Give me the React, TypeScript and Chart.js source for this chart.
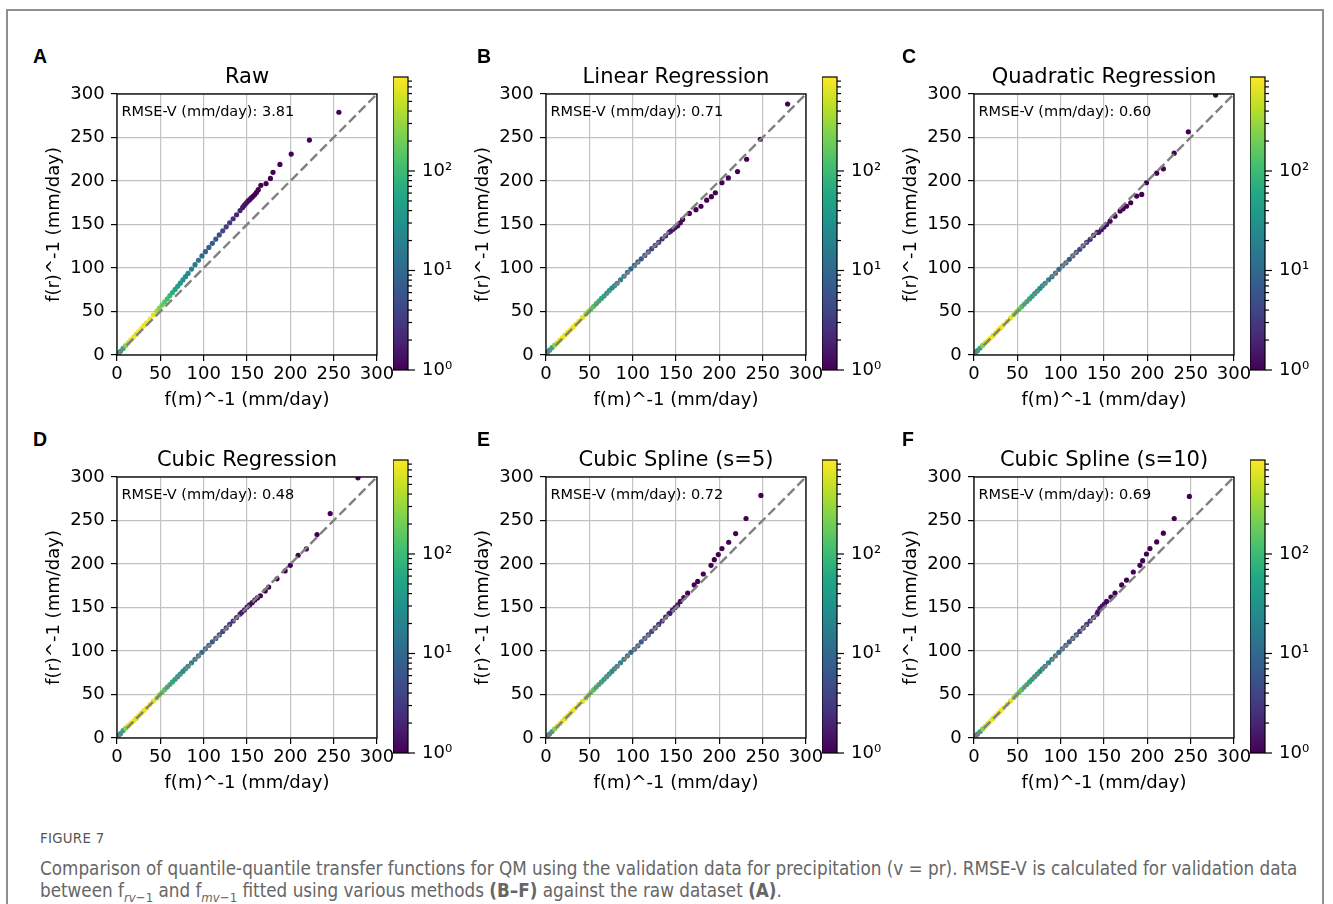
import React, { useEffect, useRef } from "react";
import { Chart, registerables } from "chart.js";

Chart.register(...registerables);
Chart.defaults.font.family = "'DejaVu Sans', sans-serif";

// ---------------- DATA ----------------
const panelLetters = ["A", "B", "C", "D", "E", "F"];
const panelTitles = [
  "Raw",
  "Linear Regression",
  "Quadratic Regression",
  "Cubic Regression",
  "Cubic Spline (s=5)",
  "Cubic Spline (s=10)",
];
const rmseLabels = ["3.81", "0.71", "0.60", "0.48", "0.72", "0.69"];
const xAxisLabel = "f(m)^-1 (mm/day)";
const yAxisLabel = "f(r)^-1 (mm/day)";
const axisTicks = [0, 50, 100, 150, 200, 250, 300];
const diagonal = [0, 300];

const colorbarMin = 1;
const colorbarMax = 880;
const colorbarDecades = [1, 10, 100];
const colorbarDecadeLabels = ["10\u2070", "10\u00b9", "10\u00b2"];
const colorbarTicks = [
  1, 2, 3, 4, 5, 6, 7, 8, 9, 10, 20, 30, 40, 50, 60, 70, 80, 90, 100, 200, 300,
  400, 500, 600, 700, 800,
];

// number of overlapping quantile points (colour), shared by all panels, per quantile index
const density = [
  30, 42, 65, 250, 520, 700, 820, 600, 780, 850, 700, 760, 820, 640, 350, 250,
  180, 140, 110, 90, 70, 55, 45, 38, 32, 28, 24, 20, 16, 13, 11, 9, 8, 7, 6, 5,
  4, 3.5, 3, 2.5, 2, 1.8, 1.6, 1.5, 1.4, 1.3, 1.2, 1.1, 1, 1, 1, 1, 1, 1, 1, 1,
  1, 1, 1, 1,
];

// lower quantiles on the x axis (dense part of the curve)
const lowQuantileX = [
  1.5, 4, 7, 10, 13, 16, 19, 22, 25, 28, 31, 34, 38, 42, 46, 49, 52, 55, 58, 61,
  64, 67, 70, 73, 76, 79, 82, 86, 90, 94, 98, 102, 106, 110, 114, 118, 122, 126,
  130, 134, 138, 142,
];

// A: Raw
const rawTailX = [145, 147, 149, 151, 153, 155, 157, 159, 161, 163, 166, 172, 177, 180, 188, 201, 222, 256];
const rawY = [
  1.6, 4.3, 7.6, 10.8, 14, 17.3, 20.5, 23.8, 27, 30.4, 33.7, 37, 41.4, 46, 50.6,
  53.9, 57.4, 61, 64.6, 68.2, 71.8, 75.4, 79, 82.6, 86.3, 90, 93.8, 98.8, 103.8,
  108.9, 113.9, 118.8, 123.6, 128.4, 133.2, 138, 142.7, 147.3, 152, 156.6,
  161.2, 166, 169.6, 172.2, 174.5, 176.8, 178.5, 180.5, 182.5, 184.5, 187, 190,
  195, 197, 203, 210, 219, 231, 247, 279,
];

// B: Linear Regression
const linLowY = [
  3, 5.5, 8.5, 11.5, 14, 17, 20, 23, 26, 29, 31.8, 35, 39, 43, 47, 49.8, 53, 56,
  59, 62, 65, 67.8, 71, 74, 77, 79.5, 82.5, 86.5, 90.5, 95, 99, 103, 107, 110.5,
  114.5, 118.5, 122.2, 126, 129.5, 133.5, 137, 141,
];
const linTailX = [144, 146.5, 149, 152, 155, 157.7, 165.4, 173, 178.8, 185.4, 190.8, 195.4, 203, 210.4, 221, 231.5, 247.3, 278.8];
const linTailY = [142.5, 144.5, 146.5, 148.5, 152, 155.8, 162.7, 167, 171, 178, 182, 186.5, 198, 203.5, 210.8, 225, 248, 288.5];

// C: Quadratic Regression
const quadLowY = [
  2.5, 5, 8, 11, 14, 16.5, 19.5, 22.5, 25.5, 28.5, 31.5, 34.5, 38.5, 42.5, 46.5,
  49.5, 52.5, 55.5, 58.5, 61.5, 64.5, 67.5, 70.5, 73.5, 76.5, 79.5, 82.5, 86.5,
  90, 94, 98.5, 102.5, 106, 110, 114, 118, 121.5, 125.5, 129.5, 133, 137.5, 141,
];
const quadTailX = [144, 147, 150, 153, 157, 162.7, 168.5, 172, 176, 180.8, 187.7, 193.5, 199, 210.8, 218.5, 231, 247.3, 278.8];
const quadTailY = [141, 144, 147, 150, 153.8, 159.6, 165.4, 168, 171, 175, 182.7, 184.6, 198, 209, 214, 232, 256.5, 298.8];

// D: Cubic Regression
const cubLowY = [
  2.5, 5, 8.5, 11.5, 14, 17, 19.5, 22.5, 25.5, 28.5, 31.5, 34.5, 38.5, 42.5, 46,
  49.5, 52.5, 55.5, 58.5, 61.5, 64.5, 67.5, 70.5, 73.5, 76.5, 79.5, 82.5, 86.5,
  90.5, 94.5, 98.5, 102.5, 106.5, 110.5, 114.5, 118.5, 122.5, 126.5, 130.5,
  134.5, 138.5, 142.5,
];
const cubTailX = [144, 147, 150, 153, 156, 159, 162, 165.4, 171, 175, 184.6, 194, 200, 209, 218.5, 230.8, 246, 278];
const cubTailY = [144.5, 147, 150.5, 153, 155.5, 158.5, 161, 163.5, 169, 173.5, 183, 192, 198.5, 210, 217.3, 233.8, 258, 299];

// E: Cubic Spline (s=5)
const spl5LowY = [
  2, 4.5, 7.5, 10.5, 13.5, 16.5, 19.5, 22.5, 25.5, 28.5, 31.5, 34.5, 38.5, 42,
  46, 49, 52.5, 55.5, 58.5, 61.5, 64.5, 67.5, 70.5, 73.5, 76.5, 79.5, 82.5, 86.5,
  90.5, 94.5, 98.5, 102, 106, 110.5, 114.5, 118.5, 122.5, 126.5, 130.5, 134.5,
  139, 143,
];
const spl5TailX = [143, 146, 149, 152, 155, 159, 163.5, 171, 175, 181.5, 190.4, 194.2, 198.8, 203, 210.8, 218.8, 230.8, 248];
const spl5TailY = [143.5, 147, 150, 153, 157, 161.5, 166.5, 176, 180, 188.5, 198.5, 205, 210.8, 217.7, 225, 235, 252.3, 278.8];

// F: Cubic Spline (s=10)
const spl10LowY = [
  2, 4.5, 7.5, 10.5, 13.5, 16.5, 19.5, 22.5, 25.5, 28.5, 31.5, 34.5, 38.5, 42.5,
  46.5, 49.5, 52.5, 55.5, 58.5, 61.5, 64.5, 67.5, 70.5, 73.5, 76.5, 79.5, 82.5,
  86.5, 90.5, 94.5, 98.5, 102.5, 106.5, 110.5, 114.5, 118.5, 122.5, 126.5,
  130.5, 134.5, 138.5, 142.5,
];
const spl10TailX = [143, 145.4, 148, 150.5, 153, 158, 162.7, 170.4, 176, 183.8, 191.5, 194.6, 199, 203, 210.8, 218.5, 231, 248.5];
const spl10TailY = [145, 149, 151.5, 154, 157, 162, 166.5, 176, 181.5, 190.8, 198.5, 203.8, 211.5, 217.7, 225.4, 235.4, 252.3, 277.7];

const panelXs = [
  [...lowQuantileX, ...rawTailX],
  [...lowQuantileX, ...linTailX],
  [...lowQuantileX, ...quadTailX],
  [...lowQuantileX, ...cubTailX],
  [...lowQuantileX, ...spl5TailX],
  [...lowQuantileX, ...spl10TailX],
];
const panelYs = [
  rawY,
  [...linLowY, ...linTailY],
  [...quadLowY, ...quadTailY],
  [...cubLowY, ...cubTailY],
  [...spl5LowY, ...spl5TailY],
  [...spl10LowY, ...spl10TailY],
];

// ---------------- STYLE / LAYOUT ----------------
const VIRIDIS = [
  "#440154", "#482475", "#414487", "#355f8d", "#2a788e", "#21918c",
  "#22a884", "#44bf70", "#7ad151", "#bddf26", "#fde725",
];
const FONT = "'DejaVu Sans', sans-serif";
const PLOT_LEFTS = [117, 546, 974];
const PLOT_TOPS = [94, 477];
const PLOT_W = 260;
const PLOT_H = 261;
const LETTER_LEFTS = [33, 477, 902];
const LETTER_TOPS = [46.5, 429.5];

function hexRgb(h: string) {
  return [parseInt(h.slice(1, 3), 16), parseInt(h.slice(3, 5), 16), parseInt(h.slice(5, 7), 16)];
}
function viridisAt(t: number) {
  const tt = Math.min(1, Math.max(0, t)) * (VIRIDIS.length - 1);
  const i = Math.min(Math.floor(tt), VIRIDIS.length - 2);
  const f = tt - i;
  const a = hexRgb(VIRIDIS[i]);
  const b = hexRgb(VIRIDIS[i + 1]);
  const c = a.map((v, k) => Math.round(v + (b[k] - v) * f));
  return `rgb(${c[0]},${c[1]},${c[2]})`;
}
function densityColor(c: number) {
  return viridisAt(Math.log10(c / colorbarMin) / Math.log10(colorbarMax / colorbarMin));
}

const panelFrame = {
  id: "panelFrame",
  afterDraw(chart: any, _args: any, opts: any) {
    const { ctx, chartArea: a } = chart;
    ctx.save();
    ctx.strokeStyle = "#000";
    ctx.lineWidth = 1.3;
    ctx.strokeRect(a.left, a.top, a.right - a.left, a.bottom - a.top);
    ctx.font = `14.5px ${FONT}`;
    ctx.fillStyle = "#000";
    ctx.textAlign = "left";
    ctx.textBaseline = "alphabetic";
    ctx.fillText(opts.text, a.left + 4.5, a.top + 21.5);
    ctx.restore();
  },
};

const colorbarPaint = {
  id: "colorbarPaint",
  afterDraw(chart: any) {
    const { ctx, chartArea: a } = chart;
    const ys = chart.scales.y;
    const y0 = ys.getPixelForValue(colorbarMin);
    const y1 = ys.getPixelForValue(colorbarMax);
    ctx.save();
    const g = ctx.createLinearGradient(0, y0, 0, y1);
    VIRIDIS.forEach((c, i) => g.addColorStop(i / (VIRIDIS.length - 1), c));
    ctx.fillStyle = g;
    ctx.fillRect(a.left, y1, a.right - a.left, y0 - y1);
    ctx.strokeStyle = "#000";
    ctx.lineWidth = 1.2;
    ctx.strokeRect(a.left, y1, a.right - a.left, y0 - y1);
    colorbarTicks.forEach((v) => {
      const py = ys.getPixelForValue(v);
      const len = colorbarDecades.includes(v) ? 7 : 4;
      ctx.beginPath();
      ctx.moveTo(a.right, py);
      ctx.lineTo(a.right + len, py);
      ctx.stroke();
    });
    ctx.restore();
  },
};

function Panel({ index }: { index: number }) {
  const sRef = useRef<HTMLCanvasElement>(null);
  const cRef = useRef<HTMLCanvasElement>(null);
  const col = index % 3;
  const row = Math.floor(index / 3);
  const plotLeft = PLOT_LEFTS[col];
  const plotTop = PLOT_TOPS[row];
  const sLeft = plotLeft - 100;
  const sTop = plotTop - 50;
  const sW = 100 + PLOT_W + 30;
  const sH = 50 + PLOT_H + 60;
  const cbLeft = plotLeft + 276;
  const cbTop = plotTop - 17 - 12;
  const cbW = 15 + 65;
  const cbH = 293 + 24;

  useEffect(() => {
    const xs = panelXs[index];
    const ys = panelYs[index];
    const tickFont = { family: FONT, size: 18 };
    const gridOpts = {
      color: "#c2c2c2",
      lineWidth: 1.2,
      tickColor: "#000",
      tickLength: 6,
      tickWidth: 1.2,
      drawTicks: true,
    };
    const colors = density.map(densityColor);
    const scatter = new Chart(sRef.current as HTMLCanvasElement, {
      type: "scatter",
      data: {
        datasets: [
          {
            type: "line",
            data: diagonal.map((v) => ({ x: v, y: v })),
            borderColor: "#808080",
            borderWidth: 2.4,
            borderDash: [9.5, 4.2],
            pointRadius: 0,
            fill: false,
          } as any,
          {
            type: "scatter",
            data: xs.map((x, i) => ({ x, y: ys[i] })),
            pointRadius: 2.6,
            pointBorderWidth: 0,
            pointBackgroundColor: colors,
            pointBorderColor: colors,
          } as any,
        ],
      },
      options: {
        responsive: false,
        animation: false,
        devicePixelRatio: 1,
        events: [],
        layout: { padding: { left: 0, right: 30, top: 0, bottom: 0 } },
        plugins: {
          legend: { display: false },
          tooltip: { enabled: false },
          title: {
            display: true,
            text: panelTitles[index],
            fullSize: false,
            color: "#000",
            font: { family: FONT, size: 21, weight: "normal" },
            padding: { top: 21, bottom: 3.8 },
          },
          panelFrame: { text: `RMSE-V (mm/day): ${rmseLabels[index]}` },
        } as any,
        scales: {
          x: {
            type: "linear",
            min: 0,
            max: 300,
            afterFit: (s: any) => {
              s.height = 60;
            },
            afterBuildTicks: (s: any) => {
              s.ticks = axisTicks.map((v) => ({ value: v }));
            },
            ticks: { font: tickFont, color: "#000", padding: 2.5, maxRotation: 0, autoSkip: false },
            grid: gridOpts,
            border: { display: false },
            title: {
              display: true,
              text: xAxisLabel,
              color: "#000",
              font: tickFont,
              padding: { top: 0, bottom: 4.2 },
            },
          },
          y: {
            type: "linear",
            min: 0,
            max: 300,
            afterFit: (s: any) => {
              s.width = 100;
            },
            afterBuildTicks: (s: any) => {
              s.ticks = axisTicks.map((v) => ({ value: v }));
            },
            ticks: { font: tickFont, color: "#000", padding: 6.4, autoSkip: false },
            grid: gridOpts,
            border: { display: false },
            title: {
              display: true,
              text: yAxisLabel,
              color: "#000",
              font: tickFont,
              padding: { top: 26.2, bottom: 0 },
            },
          },
        } as any,
      },
      plugins: [panelFrame],
    });

    const cb = new Chart(cRef.current as HTMLCanvasElement, {
      type: "scatter",
      data: { datasets: [] },
      options: {
        responsive: false,
        animation: false,
        devicePixelRatio: 1,
        events: [],
        layout: { padding: { left: 0, right: 0, top: 12, bottom: 12 } },
        plugins: { legend: { display: false }, tooltip: { enabled: false } },
        scales: {
          x: { display: false, min: 0, max: 1 },
          y: {
            type: "logarithmic",
            position: "right",
            min: colorbarMin,
            max: colorbarMax,
            afterFit: (s: any) => {
              s.width = 65;
              s.paddingTop = 0;
              s.paddingBottom = 0;
            },
            afterBuildTicks: (s: any) => {
              s.ticks = colorbarTicks.map((v) => ({ value: v }));
            },
            ticks: {
              autoSkip: false,
              padding: 14,
              color: "#000",
              font: { family: FONT, size: 18 },
              callback: (v: any) => {
                const k = colorbarDecades.indexOf(Number(v));
                return k >= 0 ? colorbarDecadeLabels[k] : "";
              },
            },
            grid: { display: false, drawTicks: false, drawOnChartArea: false },
            border: { display: false },
          },
        } as any,
      },
      plugins: [colorbarPaint],
    });

    return () => {
      scatter.destroy();
      cb.destroy();
    };
  }, [index]);

  return (
    <>
      <div
        style={{
          position: "absolute",
          left: LETTER_LEFTS[col],
          top: LETTER_TOPS[row],
          fontFamily: "'Liberation Sans', Arial, sans-serif",
          fontWeight: "bold",
          fontSize: 19.5,
          lineHeight: 1,
          color: "#000",
        }}
      >
        {panelLetters[index]}
      </div>
      <canvas
        ref={sRef}
        width={sW}
        height={sH}
        style={{ position: "absolute", left: sLeft, top: sTop, width: sW, height: sH }}
      />
      <canvas
        ref={cRef}
        width={cbW}
        height={cbH}
        style={{ position: "absolute", left: cbLeft, top: cbTop, width: cbW, height: cbH }}
      />
    </>
  );
}

export default function App() {
  const captionFont = "'Liberation Sans Narrow', 'DejaVu Sans Condensed', 'Open Sans', sans-serif";
  return (
    <div
      style={{
        position: "absolute",
        left: 0,
        top: 0,
        width: 1333,
        height: 904,
        background: "#fff",
        overflow: "hidden",
      }}
    >
      <div
        style={{
          position: "absolute",
          left: 6,
          top: 9,
          width: 1318,
          height: 920,
          boxSizing: "border-box",
          border: "2px solid #8f8f8f",
        }}
      />
      {panelLetters.map((_, i) => (
        <Panel key={i} index={i} />
      ))}
      <div
        style={{
          position: "absolute",
          left: 40,
          top: 829,
          fontFamily: captionFont,
          fontStretch: "condensed",
          fontSize: 14.8,
          lineHeight: "18px",
          color: "#555",
          letterSpacing: 0.3,
        }}
      >
        FIGURE 7
      </div>
      <div
        style={{
          position: "absolute",
          left: 40,
          top: 858,
          width: 1280,
          fontFamily: captionFont,
          fontStretch: "condensed",
          fontSize: 18.7,
          lineHeight: "22px",
          color: "#666",
          whiteSpace: "nowrap",
        }}
      >
        Comparison of quantile-quantile transfer functions for QM using the validation data for precipitation (v = pr).
        RMSE-V is calculated for validation data
        <br />
        between f
        <sub style={{ fontSize: "0.7em" }}>
          <i>rv</i>−1
        </sub>{" "}
        and f
        <sub style={{ fontSize: "0.7em" }}>
          <i>mv</i>−1
        </sub>{" "}
        fitted using various methods <b>(B–F)</b> against the raw dataset <b>(A)</b>.
      </div>
    </div>
  );
}
